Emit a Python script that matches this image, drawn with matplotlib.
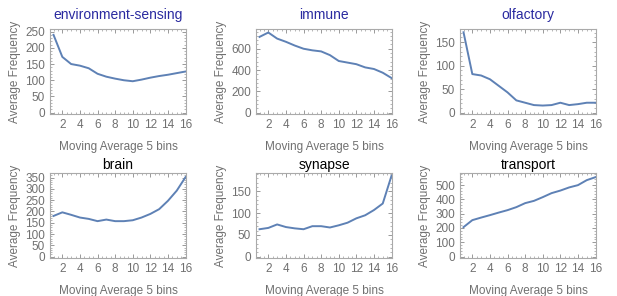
import numpy as np
import matplotlib
matplotlib.use("Agg")
import matplotlib.pyplot as plt
from matplotlib.ticker import MultipleLocator

plt.rcParams['font.family'] = ['Liberation Sans', 'DejaVu Sans']

x = np.arange(1, 17)

env = [240, 172, 150, 145, 137, 120, 111, 105, 100, 97, 102, 108, 113, 117, 122, 127]
immune = [711, 752, 695, 665, 630, 600, 585, 575, 540, 485, 470, 455, 425, 410, 375, 325]
olfactory = [171, 82, 79, 71, 57, 43, 26, 21, 16, 15, 16, 21, 16, 18, 21, 21]
brain = [180, 196, 185, 173, 167, 157, 164, 157, 157, 161, 173, 189, 210, 247, 292, 352]
synapse = [63, 66, 74, 68, 65, 63, 70, 70, 67, 72, 78, 88, 95, 107, 122, 186]
transport = [206, 255, 273, 290, 308, 325, 346, 374, 390, 416, 444, 462, 484, 500, 535, 556]

titles = ["environment-sensing", "immune", "olfactory", "brain", "synapse", "transport"]
series = [env, immune, olfactory, brain, synapse, transport]
ysteps = [50, 200, 50, 50, 50, 100]
ylims = [(-4, 258), (-12, 785), (-3, 178), (-6, 370), (-3, 192), (-10, 585)]

W, H = 617, 296
fig = plt.figure(figsize=(W / 100, H / 100), dpi=100)

lefts = [50, 256, 460]
tops = [29, 173]
aw, ah = 136, 85

gray = "#707070"
for i, (t, y) in enumerate(zip(titles, series)):
    r, c = divmod(i, 3)
    ax = fig.add_axes([lefts[c] / W, 1 - (tops[r] + ah) / H, aw / W, ah / H])
    ax.plot(x, y, color="#5E81B5", lw=1.4)
    ax.set_xlim(0.6, 16.05)
    ax.set_ylim(*ylims[i])
    ax.xaxis.set_major_locator(MultipleLocator(2))
    ax.xaxis.set_minor_locator(MultipleLocator(0.5))
    ax.yaxis.set_major_locator(MultipleLocator(ysteps[i]))
    ax.yaxis.set_minor_locator(MultipleLocator(ysteps[i] / 5))
    ax.tick_params(which="both", direction="in", top=True, right=True,
                   colors="#999999", labelcolor=gray, labelsize=8.5)
    ax.tick_params(which="major", length=3, width=0.7)
    ax.tick_params(which="minor", length=1.5, width=0.5)
    for s in ax.spines.values():
        s.set_color("#aaaaaa")
        s.set_linewidth(0.8)
    ax.set_xlabel("Moving Average 5 bins", color=gray, fontsize=8.5, labelpad=7)
    ax.set_ylabel("Average Frequency", color=gray, fontsize=8.5, labelpad=3)
    tcol = "#2a2aa0" if r == 0 else "black"
    ax.set_title(t, color=tcol, fontsize=10, pad=7 if r == 0 else 3)

fig.savefig("out.png", dpi=100)
